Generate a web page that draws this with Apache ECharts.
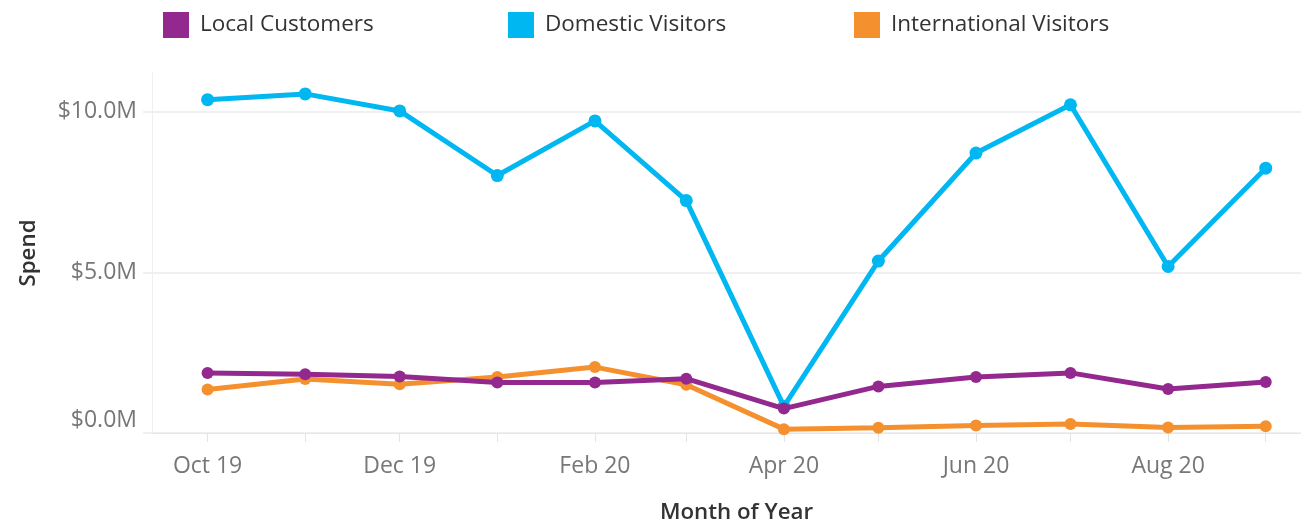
<!DOCTYPE html>
<html>
<head>
<meta charset="utf-8">
<script src="https://cdn.jsdelivr.net/npm/echarts@6/dist/echarts.min.js"></script>
<style>
html,body{margin:0;padding:0;background:#fff;}
#chart{width:1301px;height:521px;}
</style>
</head>
<body>
<div id="chart"></div>
<script>
// ---- data ----
const months = ['2019-10','2019-11','2019-12','2020-01','2020-02','2020-03','2020-04','2020-05','2020-06','2020-07','2020-08','2020-09'];
const localCustomers = [1.87, 1.83, 1.76, 1.57, 1.57, 1.69, 0.76, 1.45, 1.74, 1.87, 1.37, 1.59];
const domesticVisitors = [10.37, 10.55, 10.02, 8.01, 9.71, 7.23, 0.83, 5.35, 8.71, 10.21, 5.18, 8.24];
const internationalVisitors = [1.35, 1.68, 1.52, 1.74, 2.05, 1.50, 0.12, 0.16, 0.23, 0.28, 0.17, 0.21];
const xTickLabels = ['Oct 19','Dec 19','Feb 20','Apr 20','Jun 20','Aug 20'];
const xTickLabelMonths = ['2019-10','2019-12','2020-02','2020-04','2020-06','2020-08'];
const yTickValues = [0, 5, 10];
const seriesNames = ['Local Customers','Domestic Visitors','International Visitors'];
const colors = ['#93288E','#00B7F1','#F5902F'];

// month -> day number (days since 2019-01-01, UTC) so the x scale follows real month lengths
function monthDay(s){ const p=s.split('-'); return Date.UTC(+p[0], +p[1]-1, 1)/86400000 - Date.UTC(2019,0,1)/86400000; }
const monthDays = months.map(monthDay);
const labelDays = xTickLabelMonths.map(monthDay);
function pairs(arr){ return arr.map((v,i)=>[monthDays[i], v]); }

const FONT = '"Open Sans", "Noto Sans", sans-serif';
const chart = echarts.init(document.getElementById('chart'), null, {renderer:'canvas'});

function legendAt(name, left){
  return {
    data:[name], left:left, top:7, icon:'rect', itemWidth:26, itemHeight:26,
    textStyle:{fontFamily:FONT, fontSize:22.5, color:'#333', padding:[2,0,0,6]},
    selectedMode:false
  };
}

chart.setOption({
  animation:false,
  color: colors,
  legend:[legendAt(seriesNames[0],158), legendAt(seriesNames[1],503), legendAt(seriesNames[2],849)],
  grid:{left:152, right:0, top:73, bottom:88, containLabel:false, outerBoundsMode:'none'},
  xAxis:{
    type:'value',
    min: monthDay('2019-10') - 17.65,
    max: monthDay('2020-09') + 11.2,
    name:'Month of Year', nameLocation:'middle', nameGap:69,
    nameTextStyle:{fontFamily:FONT, fontSize:22.3, color:'#333', fontWeight:600, padding:[0,0,0,20]},
    axisLine:{show:true, lineStyle:{color:'#e4e4e4', width:1, type:[2,1]}},
    axisTick:{show:true, length:9, lineStyle:{color:'#e4e4e4'}, customValues: monthDays},
    axisLabel:{
      customValues: labelDays, margin:22,
      fontFamily:FONT, fontSize:23, color:'#777',
      formatter:function(v){
        const i = labelDays.indexOf(v);
        return i >= 0 ? xTickLabels[i] : '';
      }
    },
    splitLine:{show:false}
  },
  yAxis:{
    type:'value', min:0, max:11.2,
    name:'Spend', nameLocation:'middle', nameGap:112, nameRotate:90,
    nameTextStyle:{fontFamily:FONT, fontSize:22.3, color:'#333', fontWeight:600},
    axisLine:{show:true, lineStyle:{color:'#efefef', width:1}},
    axisTick:{show:true, length:9, lineStyle:{color:'#efefef', width:2}, customValues: yTickValues},
    axisLabel:{
      customValues: yTickValues, margin:15,
      fontFamily:FONT, fontSize:23, color:'#777',
      formatter:function(v){
        const t = '$' + v.toFixed(1) + 'M';
        return v === 0 ? '{z|' + t + '}' : t;
      },
      rich:{z:{fontFamily:FONT, fontSize:23, color:'#777', padding:[0,0,26,0]}}
    },
    splitLine:{show:true, lineStyle:{color:'#f0f0f0', width:2}}
  },
  series:[
    {name:seriesNames[2], type:'line', data:pairs(internationalVisitors), z:2,
     symbol:'circle', symbolSize:12, lineStyle:{width:5, color:colors[2]}, itemStyle:{color:colors[2]}},
    {name:seriesNames[1], type:'line', data:pairs(domesticVisitors), z:3,
     symbol:'circle', symbolSize:13, lineStyle:{width:5, color:colors[1]}, itemStyle:{color:colors[1]}},
    {name:seriesNames[0], type:'line', data:pairs(localCustomers), z:4,
     symbol:'circle', symbolSize:12, lineStyle:{width:5, color:colors[0]}, itemStyle:{color:colors[0]}}
  ]
});
</script>
</body>
</html>
